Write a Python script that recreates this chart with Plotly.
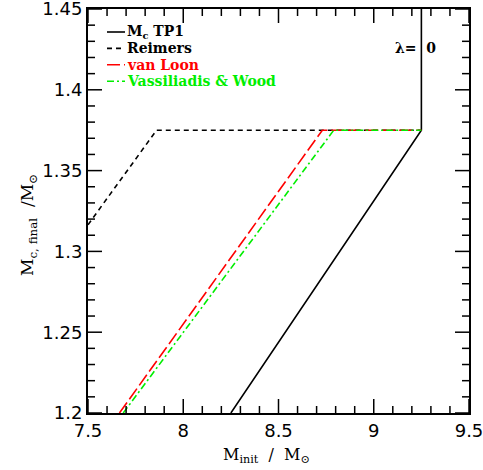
import numpy as np
import plotly.graph_objects as go

# Data (M_init, M_c,final)
tp1_x = [8.25, 9.25, 9.25]
tp1_y = [1.2, 1.375, 1.46]
reimers_x = [7.5, 7.86, 9.25]
reimers_y = [1.3165, 1.375, 1.375]
vanloon_x = [7.665, 8.73, 9.25]
vanloon_y = [1.2, 1.375, 1.375]
vw_x = [7.685, 8.79, 9.25]
vw_y = [1.2, 1.375, 1.375]

# axis ranges and ticks
x_range = [7.5, 9.5]
y_range = [1.2, 1.45]
x_major = [7.5, 8.0, 8.5, 9.0, 9.5]
y_major = [1.2, 1.25, 1.3, 1.35, 1.4, 1.45]
x_minor = [round(v, 2) for v in np.arange(7.5, 9.5001, 0.1) if round(v, 2) not in x_major]
y_minor = [round(v, 3) for v in np.arange(1.2, 1.45001, 0.01) if round(v, 3) not in y_major]

legend_names = ["M<sub>c</sub> TP1", "Reimers", "van Loon", "Vassiliadis & Wood"]
legend_colors = ["black", "black", "red", "#00ee00"]
legend_dash = ["solid", "5px,4px", "13px,4px", "7px,3px,2px,3px"]

W, H = 483, 470
PL, PR, PT, PB = 88, 469, 9, 413  # plot area in screen pixels
pw, ph = PR - PL, PB - PT
dx = (x_range[1] - x_range[0]) / pw   # data units per pixel
dy = (y_range[1] - y_range[0]) / ph


def px(x):
    return (x - PL) / pw


def py(y):
    return 1 - (y - PT) / ph


fig = go.Figure()
series = [(tp1_x, tp1_y), (reimers_x, reimers_y), (vanloon_x, vanloon_y), (vw_x, vw_y)]
for (xs, ys), c, d in zip(series, legend_colors, legend_dash):
    fig.add_trace(go.Scatter(x=xs, y=ys, mode="lines", line=dict(color=c, width=1.6, dash=d),
                             showlegend=False, hoverinfo="skip"))

# tick marks (inside, on all four sides)
tick_line = dict(color="black", width=1.5)
for vals, L in ((x_major, 14), (x_minor, 7)):
    for v in vals:
        fig.add_shape(type="line", xref="x", yref="y", x0=v, x1=v,
                      y0=y_range[0], y1=y_range[0] + L * dy, line=tick_line, layer="above")
        fig.add_shape(type="line", xref="x", yref="y", x0=v, x1=v,
                      y0=y_range[1], y1=y_range[1] - L * dy, line=tick_line, layer="above")
for vals, L in ((y_major, 14), (y_minor, 7)):
    for v in vals:
        fig.add_shape(type="line", xref="x", yref="y", y0=v, y1=v,
                      x0=x_range[0], x1=x_range[0] + L * dx, line=tick_line, layer="above")
        fig.add_shape(type="line", xref="x", yref="y", y0=v, y1=v,
                      x0=x_range[1], x1=x_range[1] - L * dx, line=tick_line, layer="above")

# legend
for i, (n, c, d) in enumerate(zip(legend_names, legend_colors, legend_dash)):
    yy = 32 + i * 16.4
    fig.add_shape(type="line", xref="paper", yref="paper",
                  x0=px(107), x1=px(125), y0=py(yy), y1=py(yy),
                  line=dict(color=c, width=1.6, dash=d))
    fig.add_annotation(xref="paper", yref="paper", x=px(125), y=py(yy),
                       text=n, showarrow=False, xanchor="left", yanchor="middle",
                       font=dict(family="DejaVu Serif", size=14, color=c, weight="bold"))

fig.add_annotation(xref="paper", yref="paper", x=px(393), y=py(48),
                   text="λ=\u00a0\u00a00", showarrow=False, xanchor="left", yanchor="middle",
                   font=dict(family="DejaVu Serif", size=14, color="black", weight="bold"))

fig.add_annotation(xref="paper", yref="paper", x=px(266), y=py(455),
                   text="M<sub>init</sub>  /  M<sub>⊙</sub>", showarrow=False,
                   xanchor="center", yanchor="middle",
                   font=dict(family="DejaVu Serif", size=16, color="black"))
fig.add_annotation(xref="paper", yref="paper", x=px(28), y=py(225),
                   text="M<sub>c, final</sub>  /M<sub>⊙</sub>", showarrow=False, textangle=-90,
                   xanchor="center", yanchor="middle",
                   font=dict(family="DejaVu Serif", size=17, color="black"))

tf = dict(family="DejaVu Sans", size=18, color="black")
common = dict(showgrid=False, zeroline=False, showline=True, linecolor="black", linewidth=2,
              mirror=True, ticks="", tickmode="array", automargin=False,
              tickfont=tf, ticklabeloverflow="allow")
fig.update_layout(
    xaxis=dict(range=x_range, tickvals=x_major, ticktext=[f"{v:g}" for v in x_major], **common),
    yaxis=dict(range=y_range, tickvals=y_major, ticktext=[f"{v:g}" for v in y_major], **common),
    width=W, height=H,
    margin=dict(l=PL, r=W - PR, t=PT, b=H - PB),
    plot_bgcolor="white", paper_bgcolor="white", showlegend=False,
)
fig.write_html("out.html", config={"displayModeBar": False},
               post_script="document.body.style.margin='0';")
